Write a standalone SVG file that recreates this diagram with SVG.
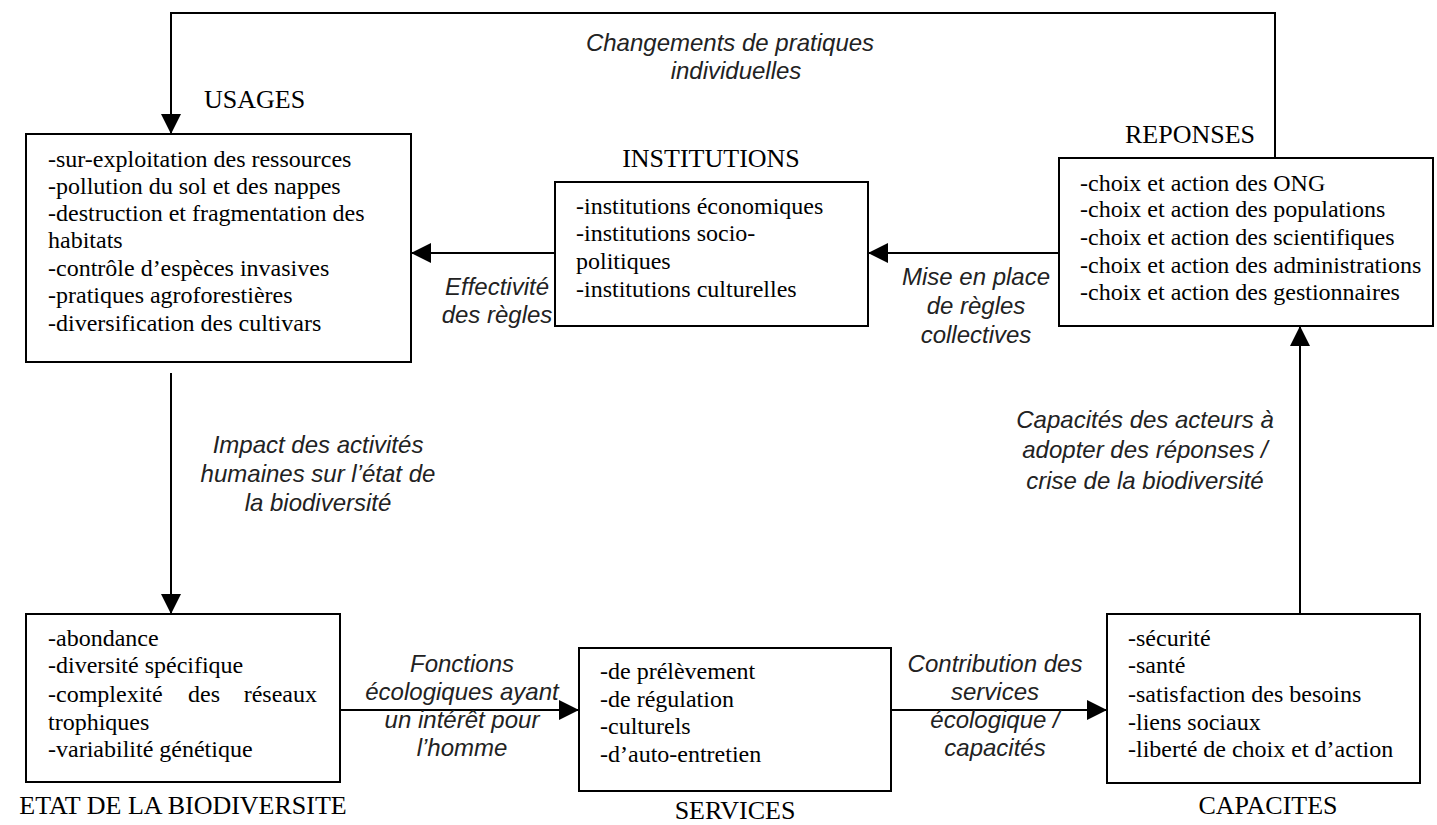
<svg xmlns="http://www.w3.org/2000/svg" width="1437" height="825" viewBox="0 0 1437 825">
<style>
.box{fill:#fff;stroke:#000;stroke-width:2}
.t{font-family:"Liberation Serif","Times New Roman",serif;font-size:24px;fill:#000}
.h{font-family:"Liberation Serif","Times New Roman",serif;font-size:26px;fill:#000}
.l{font-family:"Liberation Sans",Arial,sans-serif;font-size:24px;font-style:italic;fill:#222;text-anchor:middle}
.c{fill:none;stroke:#000;stroke-width:2}
</style>
<defs>
<marker id="arr" markerUnits="userSpaceOnUse" markerWidth="20" markerHeight="20" refX="20" refY="10" orient="auto">
<path d="M0,0 L20,10 L0,20 z" fill="#000"/>
</marker>
</defs>
<rect width="1437" height="825" fill="#fff"/>
<g id="connectors">
<path class="c" d="M1275,158 V13 H171 V134" marker-end="url(#arr)"/>
<path class="c" d="M555,253 H411" marker-end="url(#arr)"/>
<path class="c" d="M1059,253 H868" marker-end="url(#arr)"/>
<path class="c" d="M171,373 V614" marker-end="url(#arr)"/>
<path class="c" d="M340,710 H579" marker-end="url(#arr)"/>
<path class="c" d="M891,710 H1107" marker-end="url(#arr)"/>
<path class="c" d="M1300,614 V326" marker-end="url(#arr)"/>
<text class="l" x="730" y="51">Changements de pratiques</text>
<text class="l" x="736" y="79">individuelles</text>
<text class="l" x="497" y="295">Effectivité</text>
<text class="l" x="497" y="323">des règles</text>
<text class="l" x="976" y="285">Mise en place</text>
<text class="l" x="976" y="314">de règles</text>
<text class="l" x="976" y="343">collectives</text>
<text class="l" x="318" y="453">Impact des activités</text>
<text class="l" x="318" y="482">humaines sur l’état de</text>
<text class="l" x="318" y="511">la biodiversité</text>
<text class="l" x="1145" y="428">Capacités des acteurs à</text>
<text class="l" x="1145" y="458">adopter des réponses /</text>
<text class="l" x="1145" y="489">crise de la biodiversité</text>
<text class="l" x="462" y="672">Fonctions</text>
<text class="l" x="462" y="700">écologiques ayant</text>
<text class="l" x="462" y="728">un intérêt pour</text>
<text class="l" x="462" y="756">l’homme</text>
<text class="l" x="995" y="672">Contribution des</text>
<text class="l" x="995" y="700">services</text>
<text class="l" x="995" y="728">écologique /</text>
<text class="l" x="995" y="756">capacités</text>
</g>
<g id="usages">
<text class="h" x="204" y="108">USAGES</text>
<rect class="box" x="26" y="134" width="385" height="228"/>
<text class="t" x="48" y="167">-sur-exploitation des ressources</text>
<text class="t" x="48" y="194">-pollution du sol et des nappes</text>
<text class="t" x="48" y="221">-destruction et fragmentation des</text>
<text class="t" x="48" y="248">habitats</text>
<text class="t" x="48" y="276">-contrôle d’espèces invasives</text>
<text class="t" x="48" y="303">-pratiques agroforestières</text>
<text class="t" x="48" y="331">-diversification des cultivars</text>
</g>
<g id="institutions">
<text class="h" x="711" y="167" text-anchor="middle">INSTITUTIONS</text>
<rect class="box" x="555" y="182" width="313" height="144"/>
<text class="t" x="576" y="214">-institutions économiques</text>
<text class="t" x="576" y="241">-institutions socio-</text>
<text class="t" x="576" y="269">politiques</text>
<text class="t" x="576" y="297">-institutions culturelles</text>
</g>
<g id="reponses">
<text class="h" x="1125" y="143">REPONSES</text>
<rect class="box" x="1059" y="158" width="374" height="168"/>
<text class="t" x="1080" y="191">-choix et action des ONG</text>
<text class="t" x="1080" y="217">-choix et action des populations</text>
<text class="t" x="1080" y="245">-choix et action des scientifiques</text>
<text class="t" x="1080" y="273">-choix et action des administrations</text>
<text class="t" x="1080" y="300">-choix et action des gestionnaires</text>
</g>
<g id="etat">
<rect class="box" x="26" y="614" width="314" height="168"/>
<text class="t" x="48" y="646">-abondance</text>
<text class="t" x="48" y="673">-diversité spécifique</text>
<text class="t" x="48" y="702">-complexité</text>
<text class="t" x="188" y="702">des</text>
<text class="t" x="317" y="702" text-anchor="end">réseaux</text>
<text class="t" x="48" y="730">trophiques</text>
<text class="t" x="48" y="757">-variabilité génétique</text>
<text class="h" x="183" y="814" text-anchor="middle">ETAT DE LA BIODIVERSITE</text>
</g>
<g id="services">
<rect class="box" x="579" y="648" width="312" height="143"/>
<text class="t" x="600" y="679">-de prélèvement</text>
<text class="t" x="600" y="707">-de régulation</text>
<text class="t" x="600" y="734">-culturels</text>
<text class="t" x="600" y="762">-d’auto-entretien</text>
<text class="h" x="735" y="819" text-anchor="middle">SERVICES</text>
</g>
<g id="capacites">
<rect class="box" x="1107" y="614" width="313" height="169"/>
<text class="t" x="1128" y="646">-sécurité</text>
<text class="t" x="1128" y="673">-santé</text>
<text class="t" x="1128" y="702">-satisfaction des besoins</text>
<text class="t" x="1128" y="730">-liens sociaux</text>
<text class="t" x="1128" y="757">-liberté de choix et d’action</text>
<text class="h" x="1268" y="814" text-anchor="middle">CAPACITES</text>
</g>
</svg>
